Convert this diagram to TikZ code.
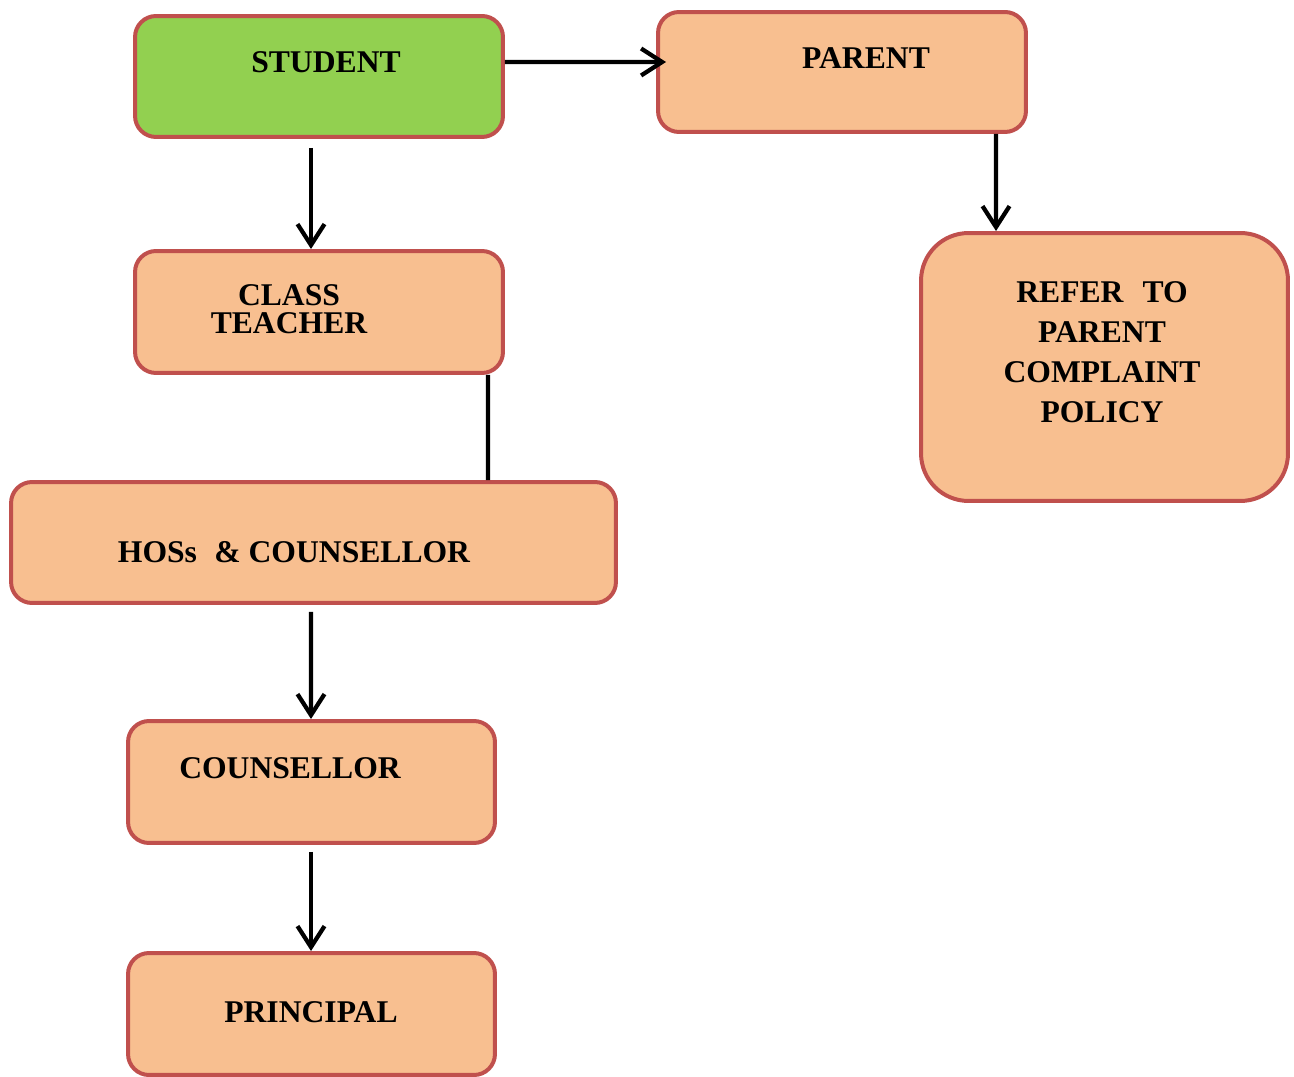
\documentclass[tikz,border=0pt]{standalone}
\usepackage{fontspec}
\setmainfont{Liberation Serif}
\usetikzlibrary{arrows.meta}
\definecolor{boxfill}{HTML}{F8BF90}
\definecolor{boxline}{HTML}{C0504D}
\definecolor{stgreen}{HTML}{92D050}
\tikzset{
  box/.style={draw=boxline, line width=0.08cm, fill=boxfill, rounded corners=0.42cm, rectangle, inner sep=0pt},
  txt/.style={inner sep=0pt, font=\bfseries\fontsize{18}{16}\selectfont, align=center},
  conn/.style={line width=0.085cm, black},
  arr/.style={conn, -{Straight Barb[length=0.42cm, width=0.54cm, line width=0.085cm]}}
}
\begin{document}
\begin{tikzpicture}[x=0.02cm, y=-0.02cm]
\useasboundingbox (0,0) rectangle (1294,1077);
% boxes
\node[box, fill=stgreen, minimum width=7.36cm, minimum height=2.42cm] (student) at (319,76.5) {};
\node[box, minimum width=7.36cm, minimum height=2.40cm] (parent) at (842,72) {};
\node[box, minimum width=7.36cm, minimum height=2.44cm] (ct) at (319,312) {};
\node[box, rounded corners=0.95cm, minimum width=7.34cm, minimum height=5.36cm] (refer) at (1104.5,367) {};
\node[box, minimum width=12.10cm, minimum height=2.42cm] (hos) at (313.5,542.5) {};
\node[box, minimum width=7.34cm, minimum height=2.44cm] (coun) at (311.5,782) {};
\node[box, minimum width=7.34cm, minimum height=2.44cm] (prin) at (311.5,1014) {};
% texts
\node[txt] (studentT) at (326,62) {STUDENT};
\node[txt] (parentT) at (866,58) {PARENT};
\node[txt] (ctT) at (289,309) {CLASS\\TEACHER};
\node[txt, font=\bfseries\fontsize{18}{22.8}\selectfont] (referT) at (1102,352.5) {REFER\hspace{0.6em}TO\\PARENT\\COMPLAINT\\POLICY};
\node[txt] (hosT) at (294,552) {HOSs\hspace{0.55em}\&\ COUNSELLOR};
\node[txt] (counT) at (290,768) {COUNSELLOR};
\node[txt] (prinT) at (311,1012) {PRINCIPAL};
% connectors
\draw[arr] ([yshift=0.29cm]student.east) -- ([xshift=0.2cm, yshift=0.2cm]parent.west);
\draw[arr] ([xshift=-0.16cm, yshift=-0.18cm]student.south) -- ([xshift=-0.16cm]ct.north);
\draw[conn] ([xshift=3.38cm]ct.south) -- ([xshift=3.49cm]hos.north);
\draw[arr] ([xshift=3.08cm]parent.south) -- ([xshift=-2.17cm]refer.north);
\draw[arr] ([xshift=-0.05cm, yshift=-0.14cm]hos.south) -- ([xshift=-0.01cm]coun.north);
\draw[arr] ([xshift=-0.01cm, yshift=-0.14cm]coun.south) -- ([xshift=-0.01cm]prin.north);
\end{tikzpicture}
\end{document}
